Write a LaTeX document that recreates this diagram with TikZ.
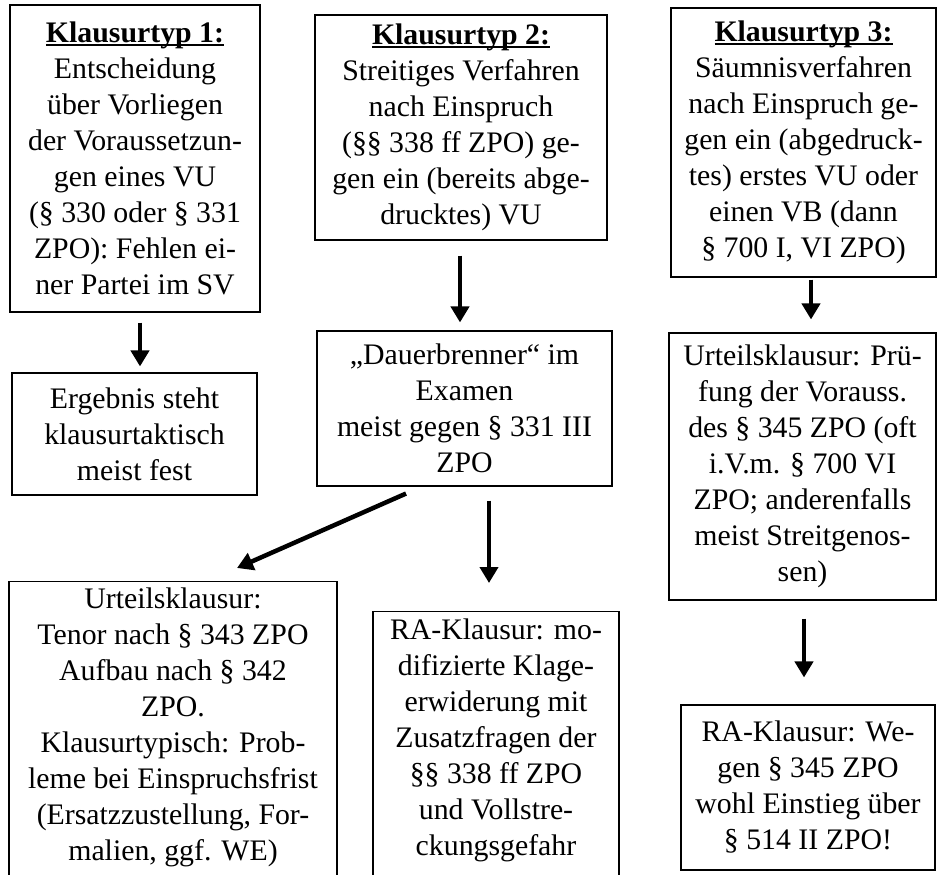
\documentclass[tikz,border=0pt]{standalone}
\usepackage{fontspec}
\setmainfont{Liberation Serif}
\usetikzlibrary{arrows.meta}
\newcommand\ulbf[1]{\setbox0\hbox{\textbf{#1}}\rlap{\rule[-3.5pt]{\wd0}{1.8pt}}\box0}
\begin{document}
\begin{tikzpicture}[x=1pt,y=-1pt]
\tikzset{
  box/.style={draw=black, line width=1.1pt, align=center, inner sep=0pt, font=\fontsize{29.8}{36}\selectfont},
  arr/.style={line width=4.5pt, -{Triangle[length=16pt,width=18pt]}},
}
\useasboundingbox (0,0) rectangle (937,875);
\clip (0,0) rectangle (937,875);
\node[box, minimum width=250pt, minimum height=307pt] (t1) at (135,158.5)
  {\ulbf{Klausurtyp 1:}\\Entscheidung\\über Vorliegen\\der Voraussetzun-\\gen eines VU\\(§ 330 oder § 331\\ZPO): Fehlen ei-\\ner Partei im SV};
\node[box, minimum width=292pt, minimum height=225pt] (t2) at (461,127.5)
  {\ulbf{Klausurtyp 2:}\\Streitiges Verfahren\\nach Einspruch\\(§§ 338 ff ZPO) ge-\\gen ein (bereits abge-\\drucktes) VU};
\node[box, minimum width=265pt, minimum height=269pt] (t3) at (803.5,142.5)
  {\ulbf{Klausurtyp 3:}\\Säumnisverfahren\\nach Einspruch ge-\\gen ein (abgedruck-\\tes) erstes VU oder\\einen VB (dann\\§ 700 I, VI ZPO)};
\node[box, minimum width=245pt, minimum height=122pt] (e1) at (134.5,434)
  {Ergebnis steht\\klausurtaktisch\\meist fest};
\node[box, minimum width=295pt, minimum height=155pt] (d2) at (464.5,408.5)
  {„Dauerbrenner“ im\\Examen\\meist gegen § 331 III\\ZPO};
\node[box, minimum width=267pt, minimum height=267pt] (u3) at (802.5,466.5)
  {Urteilsklausur: Prü-\\fung der Vorauss.\\des § 345 ZPO (oft\\i.V.m. § 700 VI\\ZPO; anderenfalls\\meist Streitgenos-\\sen)};
\node[box, anchor=north, minimum width=328pt, inner ysep=6pt] (c1) at (173,581)
  {Urteilsklausur:\\Tenor nach § 343 ZPO\\Aufbau nach § 342\\ZPO.\\Klausurtypisch: Prob-\\leme bei Einspruchsfrist\\(Ersatzzustellung, For-\\malien, ggf. WE)\rule[-60pt]{0pt}{0pt}};
\node[box, anchor=north, minimum width=246pt, inner ysep=7pt] (c2) at (496,611)
  {RA-Klausur: mo-\\difizierte Klage-\\erwiderung mit\\Zusatzfragen der\\§§ 338 ff ZPO\\und Vollstre-\\ckungsgefahr\rule[-60pt]{0pt}{0pt}};
\node[box, minimum width=254pt, minimum height=165pt] (r3) at (808,787.5)
  {RA-Klausur: We-\\gen § 345 ZPO\\wohl Einstieg über\\§ 514 II ZPO!};
\draw[arr] ([xshift=5pt,yshift=-10pt]t1.south) -- ([xshift=5.5pt,yshift=6pt]e1.north);
\draw[arr] ([xshift=-1pt,yshift=-15pt]t2.south) -- ([xshift=-4.5pt,yshift=8pt]d2.north);
\draw[arr] ([xshift=24.5pt,yshift=-14pt]d2.south) -- ([xshift=-7pt,yshift=28pt]c2.north);
\draw[arr] ([xshift=-58.5pt,yshift=-7pt]d2.south) -- ([xshift=64pt,yshift=13pt]c1.north);
\draw[arr] ([xshift=7.5pt,yshift=-2pt]t3.south) -- ([xshift=8.5pt,yshift=13pt]u3.north);
\draw[arr] ([xshift=1.5pt,yshift=-18pt]u3.south) -- ([xshift=-4pt,yshift=27pt]r3.north);
\end{tikzpicture}
\end{document}
